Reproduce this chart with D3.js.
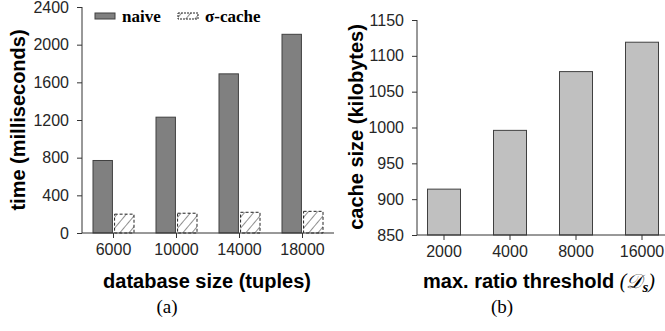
<!DOCTYPE html>
<html>
<head>
<meta charset="utf-8">
<script src="https://cdn.jsdelivr.net/npm/d3@7"></script>
<style>
  body { margin: 0; background: #fff; }
  svg { display: block; }
  .tick text { font-family: "Liberation Sans", Arial, sans-serif; font-size: 16px; fill: #262626; }
  .ttl { font-family: "Liberation Sans", Arial, sans-serif; font-size: 20px; font-weight: bold; fill: #000; }
  .cap { font-family: "Liberation Serif", "Times New Roman", serif; font-size: 19px; fill: #000; }
  .leg { font-family: "Liberation Serif", "Times New Roman", serif; font-size: 17px; font-weight: bold; fill: #000; }
</style>
</head>
<body>
<svg id="chart" width="665" height="331"></svg>
<script>
// (a) running time per database size
var sizes = ["6000", "10000", "14000", "18000"];
var series = ["naive", "σ-cache"];
var naiveTime = [770, 1230, 1690, 2110];
var cacheTime = [200, 210, 220, 230];
var timeTicks = [0, 400, 800, 1200, 1600, 2000, 2400];

// (b) cache size per threshold
var thresholds = ["2000", "4000", "8000", "16000"];
var cacheSize = [914, 996, 1078, 1119];
var sizeTicks = [850, 900, 950, 1000, 1050, 1100, 1150];

var svg = d3.select("#chart");

// hatch pattern for the cache bars
var defs = svg.append("defs");
var pat = defs.append("pattern")
    .attr("id", "hatch")
    .attr("patternUnits", "userSpaceOnUse")
    .attr("width", 7).attr("height", 7)
    .attr("patternTransform", "rotate(40)");
pat.append("rect").attr("width", 7).attr("height", 7).attr("fill", "#fff");
pat.append("line").attr("x1", 0).attr("y1", 0).attr("x2", 0).attr("y2", 7)
    .attr("stroke", "#222").attr("stroke-width", 1);

// ---------- chart (a) ----------
var xA = d3.scaleBand().domain(sizes).range([82, 334]);
var xA1 = d3.scaleBand().domain(series).range([-20.5, 20.5]).paddingInner(0.1);
var yA = d3.scaleLinear().domain([0, 2400]).range([233, 7]);

var gA = svg.append("g");

var rows = sizes.map(function(s, i) {
    return [{ key: "naive", v: naiveTime[i], s: s }, { key: "σ-cache", v: cacheTime[i], s: s }];
});

gA.selectAll("g.grp")
    .data(rows)
    .join("g")
    .attr("class", "grp")
    .attr("transform", function(d) { return "translate(" + (xA(d[0].s) + xA.bandwidth() / 2) + ",0)"; })
    .selectAll("rect")
    .data(function(d) { return d; })
    .join("rect")
    .attr("x", function(d) { return xA1(d.key); })
    .attr("width", xA1.bandwidth())
    .attr("y", function(d) { return yA(d.v); })
    .attr("height", function(d) { return yA(0) - yA(d.v); })
    .attr("fill", function(d) { return d.key == "naive" ? "#808080" : "url(#hatch)"; })
    .attr("stroke", function(d) { return d.key == "naive" ? "#404040" : "#222"; })
    .attr("stroke-width", 1)
    .attr("stroke-dasharray", function(d) { return d.key == "naive" ? null : "3,2"; });

var axA = gA.append("g")
    .attr("transform", "translate(82,0)")
    .call(d3.axisLeft(yA).tickValues(timeTicks).tickSize(5).tickPadding(8).tickFormat(d3.format("d")));
axA.select(".domain").remove();
axA.selectAll("line").attr("stroke", "#333");
gA.append("line").attr("x1", 82).attr("x2", 82).attr("y1", 7).attr("y2", 233).attr("stroke", "#333");

var axAx = gA.append("g")
    .attr("transform", "translate(0,233)")
    .call(d3.axisBottom(xA).tickSize(5).tickPadding(6));
axAx.select(".domain").remove();
axAx.selectAll("line").attr("stroke", "#333");
gA.append("line").attr("x1", 82).attr("x2", 334).attr("y1", 233).attr("y2", 233).attr("stroke", "#333");

// legend
var leg = gA.append("g");
var legX = [95, 178];
series.forEach(function(s, i) {
    leg.append("rect")
        .attr("x", legX[i]).attr("y", 13).attr("width", 20).attr("height", 6)
        .attr("fill", i == 0 ? "#808080" : "url(#hatch)")
        .attr("stroke", i == 0 ? "#404040" : "#222")
        .attr("stroke-dasharray", i == 0 ? null : "2,1");
    leg.append("text").attr("class", "leg")
        .attr("x", legX[i] + 27).attr("y", 22).text(s);
});

gA.append("text").attr("class", "ttl")
    .attr("transform", "translate(25,120) rotate(-90)")
    .attr("text-anchor", "middle")
    .text("time (milliseconds)");
gA.append("text").attr("class", "ttl")
    .attr("x", 207).attr("y", 288).attr("text-anchor", "middle")
    .text("database size (tuples)");
gA.append("text").attr("class", "cap")
    .attr("x", 167).attr("y", 313).attr("text-anchor", "middle")
    .text("(a)");

// ---------- chart (b) ----------
var xB = d3.scaleBand().domain(thresholds).range([411, 675]).padding(0.5).align(0.5);
xB.paddingOuter(0.25);
var yB = d3.scaleLinear().domain([850, 1150]).range([235, 20]);

var gB = svg.append("g");

gB.selectAll("rect")
    .data(thresholds)
    .join("rect")
    .attr("x", function(d) { return xB(d); })
    .attr("width", xB.bandwidth())
    .attr("y", function(d, i) { return yB(cacheSize[i]); })
    .attr("height", function(d, i) { return yB(850) - yB(cacheSize[i]); })
    .attr("fill", "#c0c0c0")
    .attr("stroke", "#404040");

var axB = gB.append("g")
    .attr("transform", "translate(417,0)")
    .call(d3.axisLeft(yB).tickValues(sizeTicks).tickSize(5).tickPadding(8).tickFormat(d3.format("d")));
axB.select(".domain").remove();
axB.selectAll("line").attr("stroke", "#333");
gB.append("line").attr("x1", 417).attr("x2", 417).attr("y1", 20).attr("y2", 235).attr("stroke", "#333");

var axBx = gB.append("g")
    .attr("transform", "translate(0,235)")
    .call(d3.axisBottom(xB).tickSize(5).tickPadding(6));
axBx.select(".domain").remove();
axBx.selectAll("line").attr("stroke", "#333");
gB.append("line").attr("x1", 417).attr("x2", 665).attr("y1", 235).attr("y2", 235).attr("stroke", "#333");

gB.append("text").attr("class", "ttl")
    .attr("transform", "translate(363,127) rotate(-90)")
    .attr("text-anchor", "middle")
    .text("cache size (kilobytes)");

var xl = gB.append("text").attr("class", "ttl")
    .attr("x", 423).attr("y", 288);
xl.append("tspan").text("max. ratio threshold ");
xl.append("tspan")
    .style("font-family", "'Liberation Serif', 'DejaVu Serif', serif")
    .style("font-style", "italic").style("font-weight", "normal")
    .text("(𝒟");
xl.append("tspan")
    .style("font-family", "'Liberation Serif', serif")
    .style("font-style", "italic").style("font-size", "15px")
    .attr("dy", 4).text("s");
xl.append("tspan")
    .style("font-family", "'Liberation Serif', serif")
    .style("font-style", "italic").style("font-weight", "normal")
    .attr("dy", -4).text(")");

gB.append("text").attr("class", "cap")
    .attr("x", 502).attr("y", 313).attr("text-anchor", "middle")
    .text("(b)");
</script>
</body>
</html>
